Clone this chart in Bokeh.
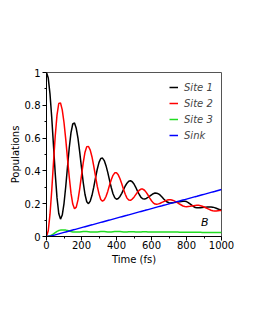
from bokeh.plotting import figure
from bokeh.models import (ColumnDataSource, Legend, LegendItem, FixedTicker,
                          CustomJSTickFormatter, Range1d)
from bokeh.core.properties import value
from bokeh.embed import file_html
from bokeh.resources import INLINE

# ---------------- data ----------------
time_fs = list(range(0, 1001, 10))

site1 = [1.000, 0.966, 0.869, 0.724, 0.553, 0.382, 0.237, 0.140, 0.106, 0.131,
         0.201, 0.305, 0.425, 0.541, 0.633, 0.686, 0.692, 0.660, 0.598, 0.513,
         0.419, 0.329, 0.256, 0.212, 0.200, 0.216, 0.251, 0.301, 0.357, 0.410,
         0.452, 0.476, 0.478, 0.463, 0.432, 0.391, 0.344, 0.299, 0.261, 0.236,
         0.227, 0.232, 0.244, 0.263, 0.286, 0.308, 0.325, 0.337, 0.340, 0.334,
         0.320, 0.300, 0.277, 0.256, 0.239, 0.230, 0.228, 0.232, 0.238, 0.246,
         0.254, 0.261, 0.265, 0.264, 0.260, 0.252, 0.241, 0.229, 0.218, 0.210,
         0.206, 0.205, 0.206, 0.207, 0.209, 0.210, 0.212, 0.214, 0.215, 0.215,
         0.213, 0.207, 0.199, 0.191, 0.183, 0.177, 0.175, 0.175, 0.176, 0.177,
         0.178, 0.179, 0.180, 0.180, 0.180, 0.179, 0.176, 0.172, 0.168, 0.164,
         0.162]

site2 = [0.000, 0.035, 0.136, 0.282, 0.452, 0.614, 0.740, 0.811, 0.815, 0.772,
         0.695, 0.592, 0.475, 0.363, 0.264, 0.198, 0.169, 0.179, 0.223, 0.292,
         0.373, 0.451, 0.514, 0.548, 0.549, 0.527, 0.485, 0.429, 0.368, 0.307,
         0.260, 0.226, 0.215, 0.223, 0.244, 0.275, 0.312, 0.346, 0.373, 0.388,
         0.388, 0.376, 0.352, 0.322, 0.288, 0.258, 0.234, 0.222, 0.221, 0.228,
         0.240, 0.255, 0.270, 0.282, 0.289, 0.289, 0.282, 0.269, 0.253, 0.234,
         0.218, 0.205, 0.198, 0.197, 0.199, 0.203, 0.208, 0.213, 0.218, 0.222,
         0.224, 0.224, 0.221, 0.217, 0.211, 0.205, 0.198, 0.192, 0.186, 0.183,
         0.182, 0.183, 0.184, 0.186, 0.188, 0.189, 0.190, 0.190, 0.188, 0.185,
         0.180, 0.175, 0.170, 0.165, 0.160, 0.157, 0.156, 0.156, 0.157, 0.158,
         0.158]

site3 = [0.000, 0.001, 0.004, 0.009, 0.016, 0.024, 0.031, 0.036, 0.039, 0.040,
         0.040, 0.039, 0.036, 0.033, 0.030, 0.028, 0.027, 0.027, 0.027, 0.028,
         0.029, 0.030, 0.030, 0.030, 0.029, 0.028, 0.027, 0.027, 0.027, 0.028,
         0.029, 0.030, 0.030, 0.030, 0.029, 0.028, 0.028, 0.028, 0.029, 0.030,
         0.031, 0.031, 0.030, 0.029, 0.028, 0.028, 0.028, 0.029, 0.029, 0.029,
         0.029, 0.028, 0.028, 0.028, 0.028, 0.029, 0.029, 0.029, 0.028, 0.028,
         0.028, 0.028, 0.028, 0.028, 0.028, 0.028, 0.027, 0.027, 0.027, 0.027,
         0.027, 0.027, 0.027, 0.027, 0.027, 0.027, 0.026, 0.026, 0.026, 0.026,
         0.026, 0.026, 0.026, 0.026, 0.026, 0.026, 0.026, 0.026, 0.026, 0.025,
         0.025, 0.025, 0.025, 0.025, 0.025, 0.025, 0.025, 0.025, 0.025, 0.025,
         0.025]

sink = [0.000, 0.001, 0.002, 0.004, 0.007, 0.010, 0.013, 0.016, 0.019, 0.022,
        0.025, 0.028, 0.031, 0.034, 0.037, 0.040, 0.042, 0.045, 0.048, 0.051,
        0.054, 0.057, 0.060, 0.063, 0.066, 0.069, 0.071, 0.074, 0.077, 0.080,
        0.083, 0.086, 0.089, 0.092, 0.095, 0.098, 0.100, 0.103, 0.106, 0.109,
        0.112, 0.115, 0.118, 0.121, 0.124, 0.127, 0.129, 0.132, 0.135, 0.138,
        0.141, 0.144, 0.147, 0.150, 0.153, 0.156, 0.158, 0.161, 0.164, 0.167,
        0.170, 0.173, 0.176, 0.179, 0.182, 0.185, 0.187, 0.190, 0.193, 0.196,
        0.199, 0.202, 0.205, 0.208, 0.211, 0.214, 0.216, 0.219, 0.222, 0.225,
        0.228, 0.231, 0.234, 0.237, 0.240, 0.243, 0.245, 0.248, 0.251, 0.254,
        0.257, 0.260, 0.263, 0.266, 0.269, 0.272, 0.274, 0.277, 0.280, 0.283,
        0.286]

series_names = ["Site 1", "Site 2", "Site 3", "Sink"]
series_colors = ["#000000", "#ff0000", "#22dd22", "#0000ff"]

x_ticks = [0, 200, 400, 600, 800, 1000]
x_minor = [100, 300, 500, 700, 900]
y_ticks = [0, 0.2, 0.4, 0.6, 0.8, 1.0]
y_minor = [0.1, 0.3, 0.5, 0.7, 0.9]

panel_label = "B"
panel_label_x = [905]
panel_label_y = [0.085]

# ---------------- figure ----------------
FONT = "DejaVu Sans"
p = figure(output_backend="svg", toolbar_location=None,
           frame_width=175, frame_height=164,
           min_border_left=46, min_border_right=24,
           min_border_top=72, min_border_bottom=30,
           x_range=Range1d(0, 1000), y_range=Range1d(0, 1.0))
p.grid.visible = False
p.outline_line_color = "#555555"
p.outline_line_width = 1
p.background_fill_color = "white"
p.border_fill_color = "white"

src = ColumnDataSource(dict(t=time_fs, s1=site1, s2=site2, s3=site3, sk=sink))
renderers = []
for col, c in zip(["s1", "s2", "s3", "sk"], series_colors):
    r = p.line("t", col, source=src, line_color=c, line_width=1.5)
    renderers.append(r)

p.text(x=panel_label_x, y=panel_label_y, text=[panel_label],
       text_font=value(FONT), text_font_size="11px", text_font_style="italic",
       text_align="center", text_baseline="middle", text_color="black")

fmt = CustomJSTickFormatter(code="var s = tick.toFixed(1); return s.endsWith('.0') ? s.slice(0, -2) : s;")

p.xaxis.ticker = FixedTicker(ticks=x_ticks, minor_ticks=x_minor)
p.yaxis.ticker = FixedTicker(ticks=y_ticks, minor_ticks=y_minor)
p.yaxis.formatter = fmt
p.xaxis.axis_label = "Time (fs)"
p.yaxis.axis_label = "Populations"
for ax in (p.xaxis[0], p.yaxis[0]):
    ax.axis_line_color = "black"
    ax.major_tick_line_color = "black"
    ax.minor_tick_line_color = "black"
    ax.major_tick_out = 4
    ax.major_tick_in = 0
    ax.minor_tick_out = 2
    ax.minor_tick_in = 0
    ax.major_label_text_font = FONT
    ax.major_label_text_font_size = "10px"
    ax.major_label_text_color = "black"
    ax.axis_label_text_font = FONT
    ax.axis_label_text_font_size = "10px"
    ax.axis_label_text_font_style = "normal"
    ax.axis_label_text_color = "black"
p.xaxis.axis_label_standoff = 2
p.yaxis.axis_label_standoff = 1
p.yaxis.major_label_standoff = 2
p.xaxis.major_label_standoff = 0

legend = Legend(items=[LegendItem(label=n, renderers=[r])
                       for n, r in zip(series_names, renderers)],
                location=(123, 93))
legend.label_text_font = FONT
legend.label_text_font_size = "10px"
legend.label_text_font_style = "italic"
legend.border_line_color = None
legend.background_fill_alpha = 0
legend.glyph_width = 9
legend.glyph_height = 16
legend.label_height = 16
legend.label_standoff = 6
legend.spacing = 0
legend.padding = 5
legend.margin = 0
p.add_layout(legend, "center")

open("out.html", "w").write(file_html(p, INLINE))
